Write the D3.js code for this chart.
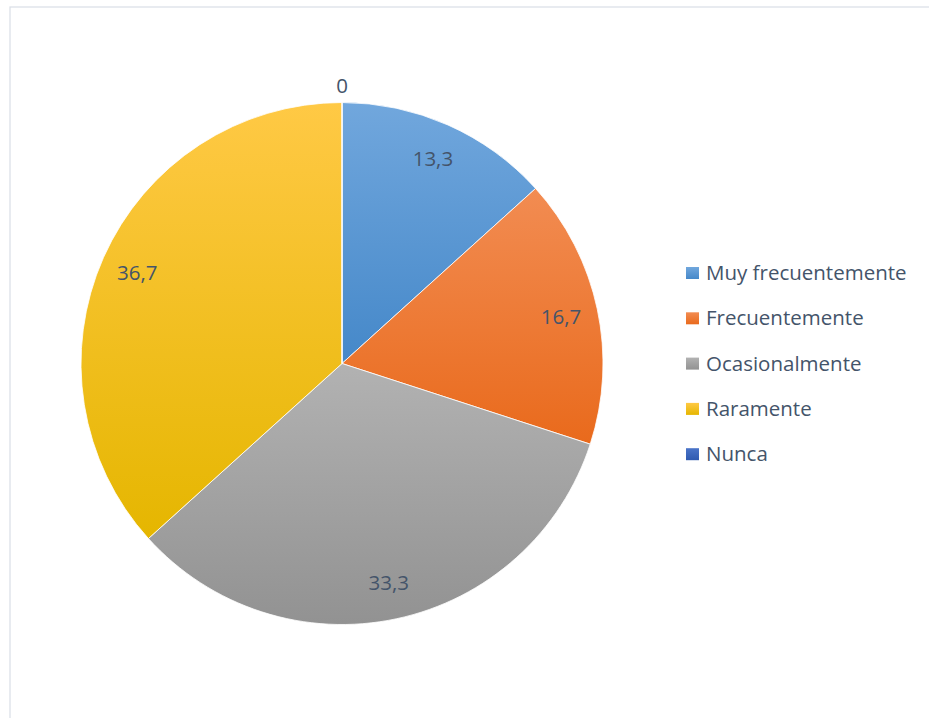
<!DOCTYPE html>
<html>
<head>
<meta charset="utf-8">
<title>Frecuencia</title>
<script src="https://d3js.org/d3.v7.min.js"></script>
<style>
  body { margin: 0; background: #fff; }
  svg { display: block; font-family: "Open Sans", Lato, sans-serif; }
</style>
</head>
<body>
<div id="chart"></div>
<script>
// data
const categories = ["Muy frecuentemente", "Frecuentemente", "Ocasionalmente", "Raramente", "Nunca"];
const values = [13.3, 16.7, 33.3, 36.7, 0];
const labels = ["13,3", "16,7", "33,3", "36,7", "0"];
// top / bottom colours of each slice gradient
const topColors = ["#71a7dd", "#f28c52", "#b2b2b2", "#ffc945", "#4a74c8"];
const bottomColors = ["#4588c9", "#e96a1c", "#929292", "#e5b600", "#2f5ab0"];

const W = 929, H = 718;
const cx = 342, cy = 363.5, R = 261;

const svg = d3.select("#chart").append("svg")
    .attr("width", W)
    .attr("height", H);

// chart frame
svg.append("rect")
    .attr("x", 10).attr("y", 7)
    .attr("width", W + 10).attr("height", H + 10)
    .attr("fill", "#fff")
    .attr("stroke", "#d9dee6")
    .attr("stroke-width", 1.2);

const defs = svg.append("defs");
categories.forEach((c, i) => {
    const g = defs.append("linearGradient")
        .attr("id", "grad" + i)
        .attr("x1", 0).attr("y1", 0).attr("x2", 0).attr("y2", 1);
    g.append("stop").attr("offset", "0%").attr("stop-color", topColors[i]);
    g.append("stop").attr("offset", "100%").attr("stop-color", bottomColors[i]);
});

const data = categories.map((c, i) => ({ cat: c, value: values[i], label: labels[i], i: i }));

const pie = d3.pie()
    .value(d => d.value)
    .sort(null);

const arc = d3.arc().innerRadius(0).outerRadius(R);
const labelArc = d3.arc().innerRadius(224).outerRadius(224);
const outerArc = d3.arc().innerRadius(R + 17).outerRadius(R + 17);

const g = svg.append("g")
    .attr("transform", `translate(${cx},${cy})`);

const arcs = pie(data);

g.selectAll("path")
    .data(arcs)
    .enter()
    .append("path")
    .attr("d", arc)
    .attr("fill", d => `url(#grad${d.data.i})`)
    .attr("stroke", "#fff")
    .attr("stroke-width", 0.8);

g.selectAll("text.lbl")
    .data(arcs)
    .enter()
    .append("text")
    .attr("class", "lbl")
    .attr("transform", d => {
        const p = d.data.value === 0 ? outerArc.centroid(d) : labelArc.centroid(d);
        return `translate(${p[0]},${p[1]})`;
    })
    .attr("text-anchor", "middle")
    .attr("dy", "0.35em")
    .attr("font-size", 20.5)
    .attr("fill", "#44546a")
    .text(d => d.data.label);

// legend
const legendX = 686, legendY = 273, legendStep = 45.3;
const legend = svg.selectAll(".legend")
    .data(data)
    .enter()
    .append("g")
    .attr("class", "legend")
    .attr("transform", (d, i) => `translate(${legendX},${legendY + i * legendStep})`);

legend.append("rect")
    .attr("x", 0).attr("y", -6)
    .attr("width", 13).attr("height", 12)
    .attr("fill", d => `url(#grad${d.i})`);

legend.append("text")
    .attr("x", 20)
    .attr("dy", "0.35em")
    .attr("font-size", 20.5)
    .attr("fill", "#44546a")
    .text(d => d.cat);
</script>
</body>
</html>
